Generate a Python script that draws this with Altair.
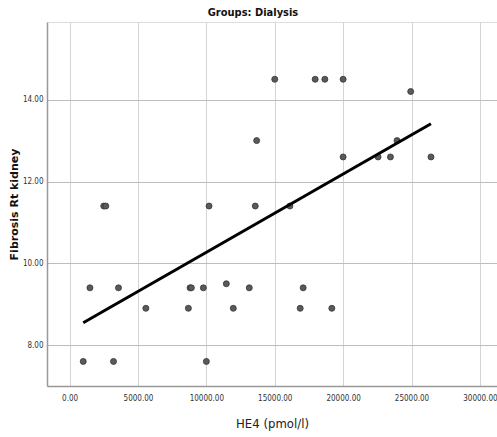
import altair as alt
import pandas as pd

# HE4 (pmol/l) and right-kidney fibrosis score, dialysis group
he4 = [1000, 1489, 2500, 2650, 3212, 3577, 5577, 8686, 8810, 8905, 9781, 10000,
       10197, 11460, 11971, 13139, 13577, 13679, 15000, 16109, 16861, 17080,
       17956, 18664, 19175, 20000, 20000, 22555, 23460, 23942, 24940, 26423]
fibrosis = [7.6, 9.4, 11.4, 11.4, 7.6, 9.4, 8.9, 8.9, 9.4, 9.4, 9.4, 7.6,
            11.4, 9.5, 8.9, 9.4, 11.4, 13.0, 14.5, 11.4, 8.9, 9.4,
            14.5, 14.5, 8.9, 14.5, 12.6, 12.6, 12.6, 13.0, 14.2, 12.6]

x_ticks = [0, 5000, 10000, 15000, 20000, 25000, 30000]
y_ticks = [8, 10, 12, 14]

df = pd.DataFrame({"he4": he4, "fibrosis": fibrosis})

narrow = "Liberation Sans Narrow, DejaVu Sans Condensed, Roboto Condensed, sans-serif"

x_enc = alt.X(
    "he4:Q",
    scale=alt.Scale(domain=[-1650, 31250], nice=False, zero=False),
    axis=alt.Axis(
        title="HE4 (pmol/l)", values=x_ticks, format=".2f",
        titleFont=narrow, titleFontSize=13, titleFontWeight="normal",
        titleColor="#222", titlePadding=15,
        labelFont=narrow, labelFontSize=8, labelColor="#333", labelPadding=8,
        ticks=False, domainColor="#999", domainWidth=1.5,
        gridColor="#d4d4d4", gridWidth=1,
    ),
)
y_enc = alt.Y(
    "fibrosis:Q",
    scale=alt.Scale(domain=[7, 15.9], nice=False, zero=False),
    axis=alt.Axis(
        title="Fibrosis Rt kidney", values=y_ticks, format=".2f",
        titleFont="DejaVu Sans", titleFontSize=11, titleFontWeight="bold",
        titleColor="#111", titleX=-33, titleY=182, titleAngle=270,
        titleAlign="center", titleBaseline="middle",
        labelFont=narrow, labelFontSize=8, labelColor="#333", labelPadding=4,
        ticks=False, domainColor="#999", domainWidth=1.5,
        gridColor="#bdbdbd", gridWidth=1,
    ),
)

points = alt.Chart(df).mark_point(
    shape="circle", filled=True, size=36, color="#5a5a5a",
    stroke="#333", strokeWidth=0.8, opacity=1,
).encode(x=x_enc, y=y_enc)

fit = alt.Chart(df).transform_regression(
    "he4", "fibrosis", method="linear"
).mark_line(color="black", strokeWidth=3).encode(
    x=alt.X("he4:Q"), y=alt.Y("fibrosis:Q")
)

chart = alt.layer(points, fit).properties(
    width=450,
    height=364,
    title=alt.TitleParams(
        "Groups: Dialysis", font=narrow, fontSize=11, fontWeight="bold",
        color="#111", anchor="middle", dx=-19, offset=4,
    ),
    autosize=alt.AutoSizeParams(type="none"),
    padding={"left": 47, "top": 22, "right": 0, "bottom": 51},
).configure_view(stroke=None).configure(background="white")

chart.save("out.html", embed_options={"renderer": "svg", "actions": False})
